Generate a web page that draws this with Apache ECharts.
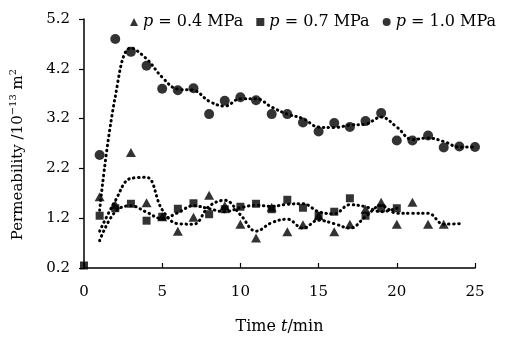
<!DOCTYPE html>
<html><head><meta charset="utf-8">
<script src="https://cdn.jsdelivr.net/npm/echarts@6/dist/echarts.min.js"></script>
<style>html,body{margin:0;padding:0;background:#fff}#c{width:506px;height:340px}</style>
</head><body><div id="c"></div>
<script>
// Measured points
const triTime = [1,2,3,4,5,6,7,8,9,10,11,12,13,14,15,16,17,18,19,20,21,22,23];
const triVal  = [1.63,1.47,2.52,1.51,1.23,0.94,1.22,1.66,1.45,1.08,0.80,1.42,0.93,1.07,1.25,0.93,1.08,1.38,1.52,1.08,1.52,1.08,1.08];
const sqTime  = [0,1,2,3,4,5,6,7,8,9,10,11,12,13,14,15,16,17,18,19,20];
const sqVal   = [0.25,1.25,1.40,1.49,1.15,1.23,1.39,1.50,1.28,1.38,1.43,1.49,1.38,1.57,1.41,1.25,1.33,1.60,1.25,1.40,1.40];
const ciTime  = [1,2,3,4,5,6,7,8,9,10,11,12,13,14,15,16,17,18,19,20,21,22,23,24,25];
const ciVal   = [2.47,4.80,4.54,4.26,3.80,3.77,3.81,3.29,3.56,3.63,3.57,3.29,3.29,3.12,2.94,3.11,3.03,3.15,3.31,2.76,2.76,2.86,2.62,2.64,2.63];
// Dotted trend curves
const triTrendTime = [1,2,3,4,5,6,7,8,9,10,11,12,13,14,15,16,17,18,19,20,21,22,23,24];
const triTrendVal  = [0.94,1.55,2.00,2.02,1.37,1.09,1.08,1.44,1.56,1.27,0.94,1.11,1.18,1.00,1.16,1.09,1.00,1.23,1.45,1.30,1.30,1.30,1.08,1.09];
const sqTrendTime  = [1,2,3,4,5,6,7,8,9,10,11,12,13,14,15,16,17,18,19,20];
const sqTrendVal   = [0.75,1.33,1.45,1.32,1.19,1.31,1.45,1.39,1.33,1.41,1.46,1.44,1.48,1.49,1.33,1.29,1.47,1.43,1.33,1.40];
const ciTrendTime  = [1,2,3,4,5,6,7,8,9,10,11,12,13,14,15,16,17,18,19,20,21,22,23,24,25];
const ciTrendVal   = [1.36,3.64,4.62,4.40,4.03,3.79,3.77,3.55,3.45,3.60,3.60,3.43,3.29,3.20,3.03,3.02,3.07,3.09,3.23,3.03,2.78,2.81,2.74,2.63,2.63];
const seriesNames = ['p = 0.4 MPa','p = 0.7 MPa','p = 1.0 MPa'];
const xTicks = [0,5,10,15,20,25];
const yTicks = [0.2,1.2,2.2,3.2,4.2,5.2];

const zip = (a,b) => a.map((v,i)=>[v,b[i]]);
const FONT = 'DejaVu Serif';
const dotted = {color:'#000', width:3, type:[0.5,4.5], cap:'round'};
const chart = echarts.init(document.getElementById('c'), null, {renderer:'canvas'});
chart.setOption({
  animation:false,
  textStyle:{fontFamily:FONT, color:'#000'},
  grid:{left:84, right:31, top:19, bottom:72, containLabel:false},
  legend:{
    left:125, top:9, itemWidth:8, itemHeight:8, itemGap:13,
    data:[{name:seriesNames[0],icon:'triangle'},{name:seriesNames[1],icon:'rect'},{name:seriesNames[2],icon:'circle'}],
    formatter: n => '{i|p}' + n.slice(1),
    textStyle:{fontFamily:FONT, fontSize:16, color:'#000',
      rich:{i:{fontFamily:FONT, fontStyle:'italic', fontSize:16, color:'#000'}}}
  },
  xAxis:{
    type:'value', min:0, max:25, interval:5,
    name:'Time {i|t}/min', nameLocation:'middle', nameGap:51,
    nameTextStyle:{fontFamily:FONT, fontSize:16, color:'#000',
      rich:{i:{fontFamily:FONT, fontStyle:'italic', fontSize:16, color:'#000'}}},
    axisLine:{lineStyle:{color:'#000', width:1.5}},
    axisTick:{inside:true, length:5, lineStyle:{color:'#000', width:1.2}, customValues:xTicks},
    axisLabel:{fontFamily:FONT, fontSize:15, color:'#000', margin:17, customValues:xTicks},
    splitLine:{show:false}
  },
  yAxis:{
    type:'value', min:0.2, max:5.2,
    name:'Permeability /10{sup|−13} m{sup|2}', nameLocation:'middle', nameGap:56, nameRotate:90,
    nameTextStyle:{fontFamily:FONT, fontSize:15, color:'#000', padding:[0,22,0,0],
      rich:{sup:{fontFamily:FONT, fontSize:10, color:'#000', padding:[0,0,10,0]}}},
    axisLine:{show:true, lineStyle:{color:'#000', width:1.5}},
    axisTick:{show:true, inside:false, length:5, lineStyle:{color:'#000', width:1.2}, customValues:yTicks},
    axisLabel:{fontFamily:FONT, fontSize:15, color:'#000', margin:14, customValues:yTicks,
      formatter: v => Number(v).toFixed(1)},
    splitLine:{show:false}
  },
  series:[
    {name:'tTrend', type:'line', data:zip(triTrendTime,triTrendVal), smooth:0.4, symbol:'none', lineStyle:dotted, z:1},
    {name:'sTrend', type:'line', data:zip(sqTrendTime,sqTrendVal), smooth:0.4, symbol:'none', lineStyle:dotted, z:1},
    {name:'cTrend', type:'line', data:zip(ciTrendTime,ciTrendVal), smooth:0.4, symbol:'none', lineStyle:dotted, z:1},
    {name:seriesNames[2], type:'scatter', data:zip(ciTime,ciVal), symbol:'circle', symbolSize:10, itemStyle:{color:'#000'}, z:3},
    {name:seriesNames[0], type:'scatter', data:zip(triTime,triVal), symbol:'triangle', symbolSize:[10,9], itemStyle:{color:'#000'}, z:3},
    {name:seriesNames[1], type:'scatter', data:zip(sqTime,sqVal), symbol:'rect', symbolSize:8, itemStyle:{color:'#000'}, z:3}
  ]
});
</script></body></html>
